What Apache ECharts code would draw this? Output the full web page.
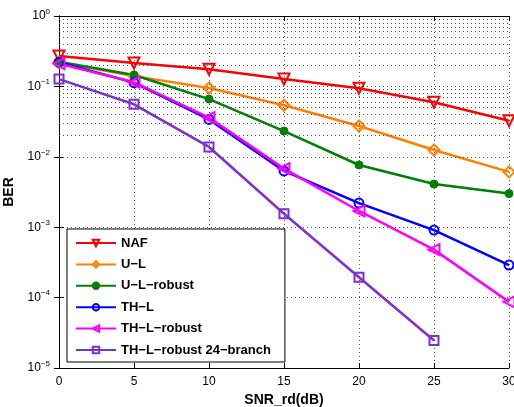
<!DOCTYPE html>
<html><head><meta charset="utf-8">
<script src="https://cdn.jsdelivr.net/npm/echarts@6/dist/echarts.min.js"></script>
<style>html,body{margin:0;padding:0;background:#fff}#c{width:514px;height:407px}</style>
</head><body><div id="c"></div>
<script>
const snr = [0, 5, 10, 15, 20, 25, 30];
const snr24 = [0, 5, 10, 15, 20, 25];
const naf = [0.27, 0.215, 0.175, 0.127, 0.094, 0.0594, 0.0326];
const ul = [0.22, 0.14, 0.095, 0.054, 0.0274, 0.0125, 0.0061];
const ulRobust = [0.224, 0.145, 0.066, 0.0232, 0.00765, 0.0041, 0.0030];
const thl = [0.22, 0.113, 0.034, 0.0063, 0.0022, 0.00091, 0.00029];
const thlRobust = [0.21, 0.115, 0.036, 0.0068, 0.0017, 0.00048, 0.000087];
const thl24 = [0.127, 0.0557, 0.0138, 0.00155, 0.000195, 0.0000246];
const names = ['NAF', 'U\u2212L', 'U\u2212L\u2212robust', 'TH\u2212L', 'TH\u2212L\u2212robust', 'TH\u2212L\u2212robust 24\u2212branch'];
const xTicks = [0, 5, 10, 15, 20, 25, 30];
const decades = [1e-5, 1e-4, 1e-3, 1e-2, 1e-1, 1];

// minor log grid positions (2..9 x each decade)
const minorVals = [];
for (let d = 0; d < decades.length - 1; d++) {
  for (let m = 2; m <= 9; m++) minorVals.push(+(decades[d] * m).toPrecision(3));
}

const FONT = 'Liberation Sans, Arial, Helvetica, sans-serif';
const dotted = { color: '#555', width: 1, type: [1, 3] };

function pairs(xs, ys) { return ys.map((y, i) => [xs[i], y]); }

function mk(name, xs, ys, color, symbol, rot, filled, size) {
  return {
    name: name, type: 'line', data: pairs(xs, ys),
    xAxisIndex: 0, yAxisIndex: 0,
    symbol: symbol, symbolRotate: rot, symbolSize: size,
    lineStyle: { color: color, width: 2.5 },
    itemStyle: filled ? { color: color, borderColor: color, borderWidth: 1 }
                      : { color: 'rgba(255,255,255,0)', borderColor: color, borderWidth: 2 },
    emphasis: { disabled: true },
    z: 3
  };
}

const chart = echarts.init(document.getElementById('c'), null, { renderer: 'canvas' });
chart.setOption({
  animation: false,
  backgroundColor: '#fff',
  grid: { left: 59, right: 5, top: 16, bottom: 39, show: false, containLabel: false, outerBoundsMode: 'none' },
  legend: {
    orient: 'vertical', left: 67, top: 229,
    backgroundColor: '#fff', borderColor: '#000', borderWidth: 1,
    padding: [7, 14, 5, 8], itemWidth: 40, itemHeight: 8, itemGap: 7.4,
    textStyle: { fontFamily: FONT, fontWeight: 'bold', fontSize: 13, lineHeight: 14, color: '#000' },
    data: names
  },
  xAxis: [{
    type: 'value', min: 0, max: 30, interval: 5, position: 'bottom',
    name: 'SNR_rd(dB)', nameLocation: 'middle', nameGap: 22,
    nameTextStyle: { fontFamily: FONT, fontWeight: 'bold', fontSize: 14, color: '#000' },
    axisLine: { show: true, lineStyle: { color: '#000', width: 1 } },
    axisTick: { show: true, inside: true, length: 5, lineStyle: { color: '#000' } },
    axisLabel: { fontFamily: FONT, fontSize: 12, color: '#000', margin: 8 },
    splitLine: { show: true, lineStyle: dotted }
  }, {
    type: 'value', min: 0, max: 30, interval: 5, position: 'top',
    axisLine: { show: true, lineStyle: { color: '#000', width: 1 } },
    axisTick: { show: true, inside: true, length: 5, lineStyle: { color: '#000' } },
    axisLabel: { show: false }, splitLine: { show: false }
  }],
  yAxis: [{
    type: 'log', logBase: 10, min: 1e-5, max: 1, interval: 1, position: 'left',
    name: 'BER', nameLocation: 'middle', nameGap: 31,
    nameTextStyle: { fontFamily: FONT, fontWeight: 'bold', fontSize: 14, color: '#000' },
    axisLine: { show: true, lineStyle: { color: '#000', width: 1 } },
    axisTick: { show: true, inside: true, length: 5, lineStyle: { color: '#000' } },
    axisLabel: {
      fontFamily: FONT, fontSize: 12, color: '#000', margin: 9,
      formatter: function (v) {
        const e = Math.round(Math.log10(v));
        return '{b|10}{s|' + (e < 0 ? '\u2212' + (-e) : e) + '}';
      },
      rich: {
        b: { fontFamily: FONT, fontSize: 12, color: '#000' },
        s: { fontFamily: FONT, fontSize: 8, color: '#000', padding: [0, 0, 9, 0] }
      }
    },
    splitLine: { show: true, lineStyle: dotted }
  }, {
    type: 'log', logBase: 10, min: 1e-5, max: 1, interval: 1, position: 'right',
    axisLine: { show: true, lineStyle: { color: '#000', width: 1 } },
    axisTick: { show: true, inside: true, length: 5, lineStyle: { color: '#000' } },
    axisLabel: { show: false }, splitLine: { show: false }
  }],
  series: [
    {
      type: 'line', data: [], silent: true, xAxisIndex: 0, yAxisIndex: 0,
      markLine: {
        silent: true, symbol: 'none', label: { show: false },
        lineStyle: dotted, emphasis: { disabled: true },
        data: minorVals.map(v => ({ yAxis: v }))
      }, z: 1
    },
    mk(names[0], snr, naf, '#ff0000', 'triangle', 180, false, 11),
    mk(names[1], snr, ul, '#ff7f00', 'diamond', 0, false, 11),
    mk(names[2], snr, ulRobust, '#008000', 'circle', 0, true, 8),
    mk(names[3], snr, thl, '#0000ff', 'circle', 0, false, 9),
    mk(names[4], snr, thlRobust, '#ff00ff', 'triangle', 90, false, 11),
    mk(names[5], snr24, thl24, '#7f2fd0', 'rect', 0, false, 9)
  ]
});
</script>
</body></html>
